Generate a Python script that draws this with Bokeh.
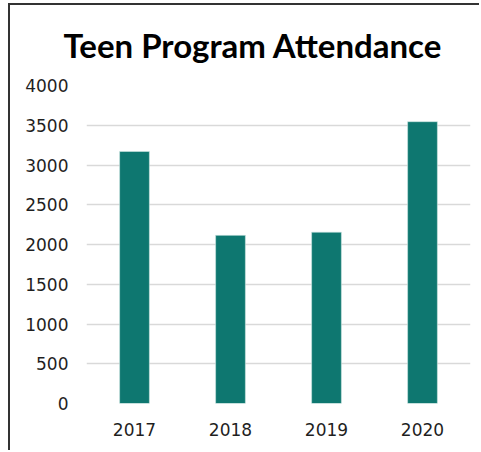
from bokeh.plotting import figure
from bokeh.models import Range1d
from bokeh.embed import file_html
from bokeh.resources import INLINE

years = ["2017", "2018", "2019", "2020"]
attendance = [3170, 2115, 2155, 3545]
y_ticks = [0, 500, 1000, 1500, 2000, 2500, 3000, 3500, 4000]

p = figure(x_range=years, y_range=Range1d(0, 4000), width=471, height=447,
           output_backend="svg", toolbar_location=None,
           min_border_left=76, min_border_right=11, min_border_top=80, min_border_bottom=49)
p.styles = {"border-left": "2px solid #333333", "border-top": "2px solid #333333",
            "margin-top": "3px", "margin-left": "8px"}

p.vbar(x=years, top=attendance, width=0.31, fill_color="#0e7770", line_color="#cfe6e3", line_width=0.6)

p.title.text = "Teen Program Attendance"
p.title.align = "left"
p.title.offset = -23
p.title.vertical_align = "top"
p.title.text_font = "Lato"
p.title.text_font_style = "bold"
p.title.text_font_size = "33px"
p.title.text_color = "#000000"
p.title.standoff = 38

p.outline_line_color = None
p.xgrid.grid_line_color = None
p.ygrid.grid_line_color = "#d9d9d9"
p.ygrid.grid_line_width = 1.5
p.yaxis.ticker = y_ticks

for ax in (p.xaxis, p.yaxis):
    ax.axis_line_color = None
    ax.major_tick_line_color = None
    ax.minor_tick_line_color = None
    ax.major_tick_out = 0
    ax.major_tick_in = 0
    ax.major_label_text_font = "DejaVu Sans"
    ax.major_label_text_font_size = "17px"
    ax.major_label_text_color = "#1f1f1f"
p.yaxis.major_label_standoff = 18
p.xaxis.major_label_standoff = 19

open("out.html", "w").write(file_html(p, INLINE))
